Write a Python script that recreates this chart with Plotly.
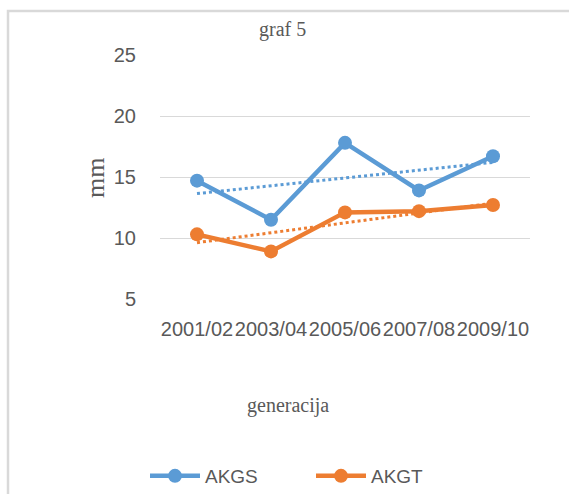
import numpy as np
import plotly.graph_objects as go

# Generations (school years) and measured values in mm
generations = ["2001/02", "2003/04", "2005/06", "2007/08", "2009/10"]
akgs = [14.7, 11.5, 17.8, 13.9, 16.7]
akgt = [10.3, 8.9, 12.1, 12.2, 12.7]
y_ticks = [5, 10, 15, 20, 25]

BLUE = "#5B9BD5"
ORANGE = "#ED7D31"
TEXT = "#595959"
GRID = "#D9D9D9"
SANS = "Liberation Sans, Arial, sans-serif"
SERIF = "Liberation Serif, Times New Roman, serif"

W, H = 569, 494
L, R, T, B = 160, 39, 55, 195
plot_w = W - L - R
plot_h = H - T - B


def px_x(px):
    return (px - L) / plot_w


def px_y(py):
    return (H - B - py) / plot_h


def trend(values):
    idx = np.arange(len(values))
    slope, icpt = np.polyfit(idx, values, 1)
    return slope * idx + icpt


fig = go.Figure()

for name, vals, color in [("AKGS", akgs, BLUE), ("AKGT", akgt, ORANGE)]:
    fig.add_trace(go.Scatter(
        x=generations, y=vals, name=name, mode="lines+markers",
        line=dict(color=color, width=4.5),
        marker=dict(color=color, size=14),
    ))

# Linear trendlines for both series
for vals, color in [(akgs, BLUE), (akgt, ORANGE)]:
    fig.add_trace(go.Scatter(
        x=generations, y=trend(vals), mode="lines", showlegend=False,
        line=dict(color=color, width=3, dash="dot"), hoverinfo="skip",
    ))

fig.update_layout(
    width=W, height=H,
    margin=dict(l=L, r=R, t=T, b=B, autoexpand=False),
    paper_bgcolor="white", plot_bgcolor="white",
    showlegend=True,
    legend=dict(
        orientation="h", x=px_x(145), y=px_y(476),
        xanchor="left", yanchor="middle",
        font=dict(family=SANS, size=19, color=TEXT),
        itemwidth=50, entrywidth=101, traceorder="normal",
    ),
    xaxis=dict(
        type="category", range=[-0.5, len(generations) - 0.5],
        showgrid=False, showline=False, zeroline=False,
        ticks="", tickangle=0, automargin=False, ticklabelstandoff=16,
        tickfont=dict(family=SANS, size=20, color=TEXT),
    ),
    yaxis=dict(
        range=[5, 25], tickvals=y_ticks, showgrid=True, gridcolor=GRID,
        gridwidth=1, zeroline=False, showline=False, ticks="", automargin=False,
        tickfont=dict(family=SANS, size=20, color=TEXT),
        ticklabelstandoff=23,
    ),
    shapes=[
        dict(type="path", xref="paper", yref="paper",
             path=f"M {px_x(W + 5)},{px_y(11)} L {px_x(8)},{px_y(11)} L {px_x(8)},{px_y(H + 5)}",
             line=dict(color=GRID, width=2.5)),
    ],
    annotations=[
        dict(text="graf 5", xref="paper", yref="paper", x=px_x(282), y=px_y(30),
             xanchor="center", yanchor="middle", showarrow=False,
             font=dict(family=SERIF, size=20, color=TEXT)),
        dict(text="generacija", xref="paper", yref="paper", x=px_x(288), y=px_y(406),
             xanchor="center", yanchor="middle", showarrow=False,
             font=dict(family=SERIF, size=20, color=TEXT)),
        dict(text="mm", xref="paper", yref="paper", x=px_x(95), y=px_y(178),
             xanchor="center", yanchor="middle", showarrow=False, textangle=-90,
             font=dict(family=SERIF, size=26, color=TEXT)),
    ],
)

fig.write_html("out.html")
